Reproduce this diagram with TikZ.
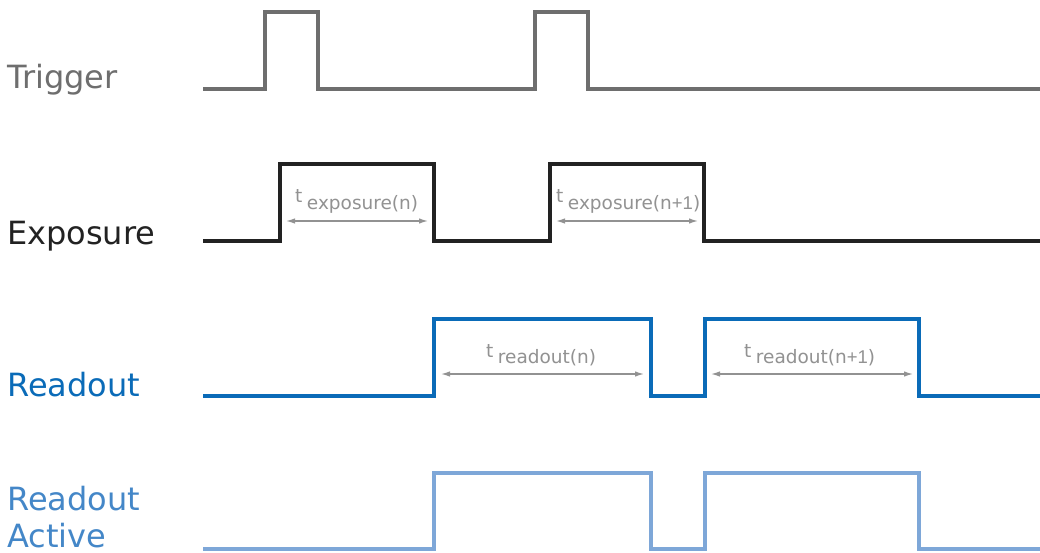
\documentclass[tikz,border=0pt]{standalone}
\usepackage{fontspec}
\setmainfont{DejaVu Sans}
\newfontfamily\narrowfont{Liberation Sans}
\usetikzlibrary{arrows.meta}
\definecolor{trig}{HTML}{6E6E6E}
\definecolor{expo}{HTML}{222222}
\definecolor{rdout}{HTML}{0A6BB8}
\definecolor{ract}{HTML}{7EA7D8}
\definecolor{ractt}{HTML}{4487C8}
\definecolor{dim}{HTML}{929292}
\tikzset{
  signal/.style={line width=3.2pt, line join=miter},
  biglabel/.style={anchor=base west, inner sep=0pt, font=\fontsize{32}{37}\selectfont},
  dimarrow/.style={draw=dim, line width=1.3pt, {Latex[length=9pt,width=5.5pt]}-{Latex[length=9pt,width=5.5pt]}},
  dimlabel/.style={anchor=base west, inner sep=0pt, text=dim, font=\fontsize{18.5}{22}\selectfont}
}
\newcommand{\tsub}[1]{t\kern4.5pt\raisebox{-6.5pt}{#1}}
\begin{document}
\begin{tikzpicture}[x=1pt,y=-1pt]
\useasboundingbox[fill=white] (0,0) rectangle (1040,553);
% labels
\node[biglabel, text=trig] (ltrig) at (7,89) {Trigger};
\node[biglabel, text=expo] (lexpo) at (7,244) {Exposure};
\node[biglabel, text=rdout] (lread) at (7,396) {Readout};
\node[biglabel, text=ractt] (lract1) at (7,510) {Readout};
\node[biglabel, text=ractt] (lract2) at (7,547) {Active};
% Trigger
\draw[signal, trig] (203,89) -| (265,12) -| (318,89) -| (535,12) -| (588,89) -- (1040,89);
% Exposure
\draw[signal, expo] (203,241) -| (280,164) -| (434,241) -| (550,164) -| (704,241) -- (1040,241);
% Readout
\draw[signal, rdout] (203,396) -| (434,319) -| (651,396) -| (705,319) -| (919,396) -- (1040,396);
% Readout Active
\draw[signal, ract] (203,549) -| (434,473) -| (651,549) -| (705,473) -| (919,549) -- (1040,549);
% dimension arrows
\coordinate (e1a) at (286,221); \coordinate (e1b) at (428,221);
\coordinate (e2a) at (556,221); \coordinate (e2b) at (698,221);
\coordinate (r1a) at (441,374); \coordinate (r1b) at (644,374);
\coordinate (r2a) at (711,374); \coordinate (r2b) at (913,374);
\draw[dimarrow] (e1a) -- (e1b);
\draw[dimarrow] (e2a) -- (e2b);
\draw[dimarrow] (r1a) -- (r1b);
\draw[dimarrow] (r2a) -- (r2b);
\node[dimlabel] (te1) at (295,203) {\tsub{exposure(n)}};
\node[dimlabel] (te2) at (556,203) {\tsub{exposure(n{\narrowfont+1})}};
\node[dimlabel] (tr1) at (486,357) {\tsub{readout(n)}};
\node[dimlabel] (tr2) at (744,357) {\tsub{readout(n{\narrowfont+1})}};
\end{tikzpicture}
\end{document}
